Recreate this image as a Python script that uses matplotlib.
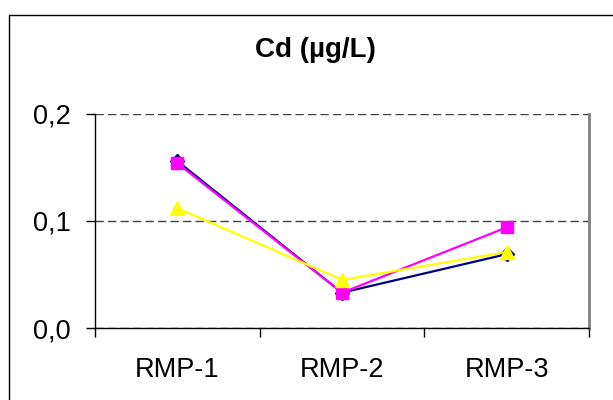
import matplotlib
matplotlib.use("Agg")
import matplotlib.pyplot as plt
from matplotlib.patches import Rectangle

categories = ["RMP-1", "RMP-2", "RMP-3"]
series_navy = [0.156, 0.033, 0.069]
series_magenta = [0.154, 0.033, 0.094]
series_yellow = [0.112, 0.045, 0.071]
y_ticks = [0.0, 0.1, 0.2]
y_tick_labels = ["0,0", "0,1", "0,2"]
title = "Cd (µg/L)"

plt.rcParams["font.family"] = ["Liberation Sans", "DejaVu Sans"]

fig = plt.figure(figsize=(6.13, 4.0), dpi=100)
fig.patch.set_facecolor("white")

# outer chart frame (right and bottom edges run past the canvas)
fig.patches.append(Rectangle((8.5 / 613, -0.1), 1.2, (400 - 14.5) / 400 + 0.1,
                             transform=fig.transFigure, fill=False,
                             edgecolor="black", linewidth=1.0))

ax = fig.add_axes([95 / 613, 72 / 400, 494 / 613, 214 / 400])
x = list(range(len(categories)))

ax.plot(x, series_navy, color="#000080", linewidth=1.6, marker="D",
        markersize=7, zorder=3)
ax.plot(x, series_magenta, color="#FF00FF", linewidth=1.6, marker="s",
        markersize=9, zorder=4)
ax.plot(x, series_yellow, color="#FFFF00", linewidth=1.6, marker="^",
        markersize=10, zorder=5)

ax.set_xlim(-0.5, len(categories) - 0.5)
ax.set_ylim(0, 0.2)

ax.set_yticks(y_ticks)
ax.set_yticklabels(y_tick_labels, fontsize=19.5)
ax.yaxis.grid(True, linestyle=(0, (6, 3)), color="#404040", linewidth=1.0)
ax.set_axisbelow(True)

ax.set_xticks(x)
ax.set_xticklabels(categories, fontsize=19.5)
ax.set_xticks([i - 0.5 for i in range(len(categories) + 1)], minor=True)
ax.tick_params(axis="x", which="major", length=0, pad=21)
ax.tick_params(axis="x", which="minor", length=6.5, width=1, direction="out")
ax.tick_params(axis="y", length=6.5, width=1, direction="out", pad=11)

ax.spines["top"].set_visible(False)
ax.spines["right"].set_color("#808080")
ax.spines["right"].set_linewidth(2)
ax.spines["left"].set_linewidth(1)
ax.spines["bottom"].set_linewidth(1)

fig.text(315 / 613, 1 - 50 / 400, title, ha="center", va="center",
         fontsize=20, fontweight="bold")

fig.savefig("out.png", dpi=100, facecolor="white")
